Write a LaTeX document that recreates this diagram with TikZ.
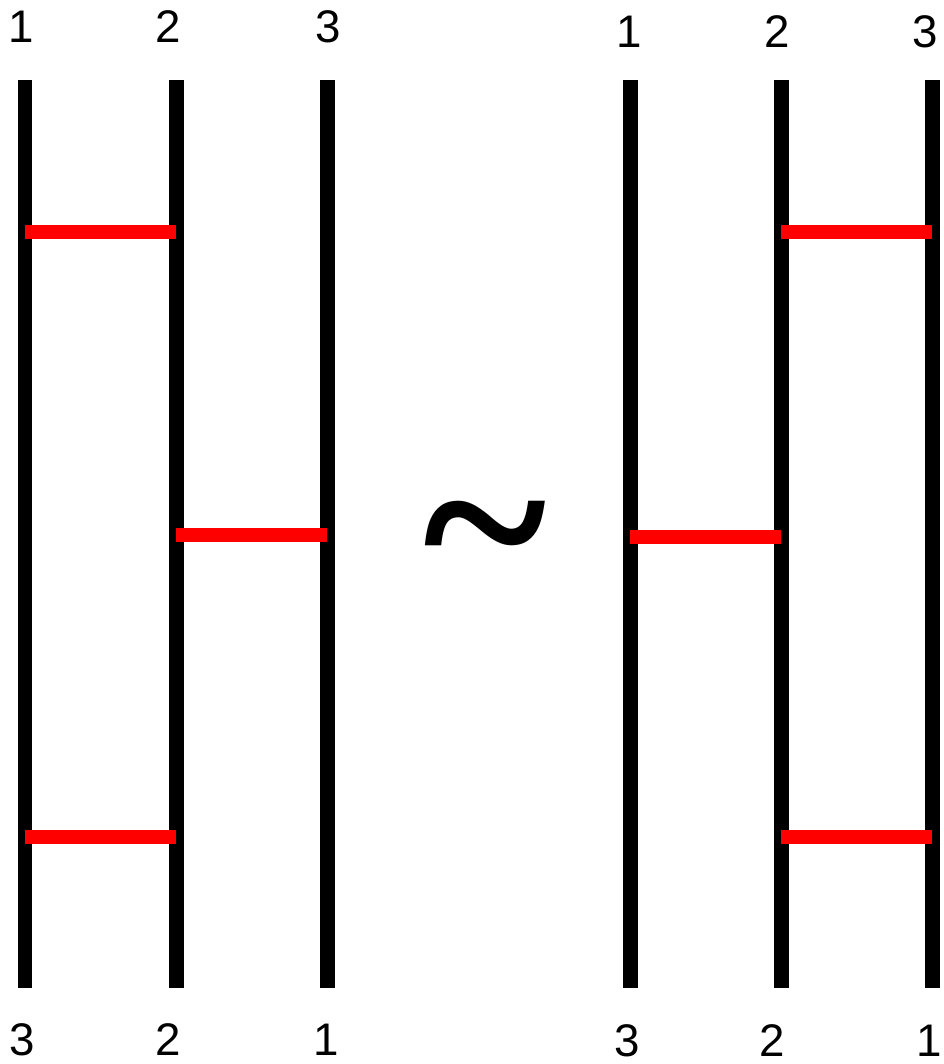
\documentclass[tikz,border=0pt]{standalone}
\usepackage{fontspec}
\setmainfont{Liberation Sans}
\newfontfamily\tildefont{Liberation Serif}
\usetikzlibrary{positioning, calc}
\definecolor{rungred}{RGB}{255,0,0}
\definecolor{strandblack}{RGB}{0,0,0}
\tikzset{
  strand/.style={line width=0.3cm, color=strandblack},
  rung/.style={line width=0.28cm, color=rungred},
  numlabel/.style={inner sep=0pt, font=\fontsize{26}{26}\selectfont},
  simsign/.style={inner sep=0pt, font=\tildefont\bfseries\fontsize{135}{135}\selectfont}
}

\begin{document}
\begin{tikzpicture}[x=0.02cm, y=-0.02cm]
  \useasboundingbox (0,0) rectangle (943,1064);
  % Left ladder: strand ends
  \coordinate (a1t) at (25,80);   \coordinate (a1b) at (25,988);
  \coordinate (a2t) at (176,80);  \coordinate (a2b) at (176,988);
  \coordinate (a3t) at (327,80);  \coordinate (a3b) at (327,988);
  \draw[strand] (a1t) -- (a1b);
  \draw[strand] (a2t) -- (a2b);
  \draw[strand] (a3t) -- (a3b);
  % Left ladder: rungs
  \draw[rung] (a1t |- 0,232) -- (a2t |- 0,232);
  \draw[rung] (a2t |- 0,535) -- (a3t |- 0,535);
  \draw[rung] (a1t |- 0,837) -- (a2t |- 0,837);
  % Left ladder: labels
  \node[numlabel] (at1) at (21,27) {1};
  \node[numlabel] (at2) at (168,27) {2};
  \node[numlabel] (at3) at (328,27) {3};
  \node[numlabel] (ab3) at (22,1040) {3};
  \node[numlabel] (ab2) at (168,1040) {2};
  \node[numlabel] (ab1) at (326,1040) {1};
  % Equivalence sign
  \node[simsign] (sim) at (485,551) {\textasciitilde};
  % Right ladder: strand ends
  \coordinate (b1t) at (630,80);  \coordinate (b1b) at (630,988);
  \coordinate (b2t) at (781,80);  \coordinate (b2b) at (781,988);
  \coordinate (b3t) at (932,80);  \coordinate (b3b) at (932,988);
  \draw[strand] (b1t) -- (b1b);
  \draw[strand] (b2t) -- (b2b);
  \draw[strand] (b3t) -- (b3b);
  % Right ladder: rungs
  \draw[rung] (b2t |- 0,232) -- (b3t |- 0,232);
  \draw[rung] (b1t |- 0,537) -- (b2t |- 0,537);
  \draw[rung] (b2t |- 0,837) -- (b3t |- 0,837);
  % Right ladder: labels
  \node[numlabel] (bt1) at (629,32) {1};
  \node[numlabel] (bt2) at (777,32) {2};
  \node[numlabel] (bt3) at (925,32) {3};
  \node[numlabel] (bb3) at (627,1041) {3};
  \node[numlabel] (bb2) at (772,1041) {2};
  \node[numlabel] (bb1) at (929,1041) {1};
\end{tikzpicture}
\end{document}
